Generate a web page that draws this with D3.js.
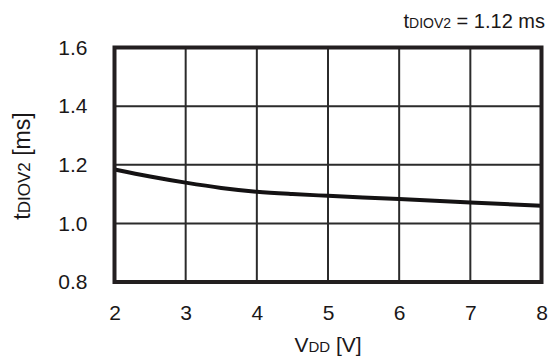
<!DOCTYPE html>
<html>
<head>
<meta charset="utf-8">
<script src="https://cdn.jsdelivr.net/npm/d3@7"></script>
<style>
  body { margin: 0; background: #fff; }
  svg { display: block; font-family: "Liberation Sans", Arial, sans-serif; }
</style>
</head>
<body>
<script>
const vddValues = [2, 2.5, 3, 3.5, 4, 4.5, 5, 6, 7, 8];
const tdiovValues = [1.184, 1.160, 1.139, 1.121, 1.108, 1.100, 1.094, 1.083, 1.071, 1.060];
const xTicks = [2, 3, 4, 5, 6, 7, 8];
const yTicks = [0.8, 1.0, 1.2, 1.4, 1.6];

const width = 550, height = 360;
const margin = {left: 114.5, right: 8.5, top: 47.5, bottom: 78};
const ink = "#1a1718";

const svg = d3.select("body").append("svg")
    .attr("width", width)
    .attr("height", height);

const xScale = d3.scaleLinear()
    .domain([2, 8])
    .range([margin.left, width - margin.right]);

const yScale = d3.scaleLinear()
    .domain([0.8, 1.6])
    .range([height - margin.bottom, margin.top]);

// grid
svg.append("g")
    .selectAll("line")
    .data(xTicks)
    .enter()
    .append("line")
    .attr("x1", d => xScale(d))
    .attr("x2", d => xScale(d))
    .attr("y1", yScale(0.8))
    .attr("y2", yScale(1.6))
    .attr("stroke", "#2b2b2b")
    .attr("stroke-width", 2);

svg.append("g")
    .selectAll("line")
    .data(yTicks)
    .enter()
    .append("line")
    .attr("x1", xScale(2))
    .attr("x2", xScale(8))
    .attr("y1", d => yScale(d))
    .attr("y2", d => yScale(d))
    .attr("stroke", "#2b2b2b")
    .attr("stroke-width", 2);

// curve
const points = vddValues.map((v, i) => [v, tdiovValues[i]]);
const line = d3.line()
    .x(d => xScale(d[0]))
    .y(d => yScale(d[1]))
    .curve(d3.curveMonotoneX);

svg.append("path")
    .datum(points)
    .attr("d", line)
    .attr("fill", "none")
    .attr("stroke", "#141213")
    .attr("stroke-width", 4);

// frame
svg.append("rect")
    .attr("x", xScale(2))
    .attr("y", yScale(1.6))
    .attr("width", xScale(8) - xScale(2))
    .attr("height", yScale(0.8) - yScale(1.6))
    .attr("fill", "none")
    .attr("stroke", "#231f20")
    .attr("stroke-width", 4);

// axes
const xAxis = d3.axisBottom(xScale)
    .tickValues(xTicks)
    .tickFormat(d3.format("d"))
    .tickSize(0)
    .tickPadding(23);

const yAxis = d3.axisLeft(yScale)
    .tickValues(yTicks)
    .tickFormat(d3.format(".1f"))
    .tickSize(0)
    .tickPadding(27);

const gx = svg.append("g")
    .attr("transform", `translate(0, ${yScale(0.8)})`)
    .call(xAxis);
const gy = svg.append("g")
    .attr("transform", `translate(${xScale(2)}, 0)`)
    .call(yAxis);

[gx, gy].forEach(g => {
    g.select(".domain").remove();
    g.selectAll("text")
        .attr("fill", ink)
        .style("font-family", "'Liberation Sans', Arial, sans-serif")
        .style("font-size", "21px");
});

// axis titles
const xTitle = svg.append("text")
    .attr("x", 328)
    .attr("y", 352)
    .attr("text-anchor", "middle")
    .attr("fill", ink)
    .style("font-size", "21px");
xTitle.append("tspan").text("V");
xTitle.append("tspan").text("DD").style("font-size", "15px");
xTitle.append("tspan").text(" [V]");

const yTitle = svg.append("text")
    .attr("transform", "translate(30, 166) rotate(-90)")
    .attr("text-anchor", "middle")
    .attr("fill", ink)
    .style("font-size", "23px");
yTitle.append("tspan").text("t");
yTitle.append("tspan").text("DIOV2").style("font-size", "17px");
yTitle.append("tspan").text(" [ms]");

const note = svg.append("text")
    .attr("x", 545)
    .attr("y", 28)
    .attr("text-anchor", "end")
    .attr("fill", ink)
    .style("font-size", "20px");
note.append("tspan").text("t");
note.append("tspan").text("DIOV2").style("font-size", "14px");
note.append("tspan").text(" = 1.12 ms");
</script>
</body>
</html>
